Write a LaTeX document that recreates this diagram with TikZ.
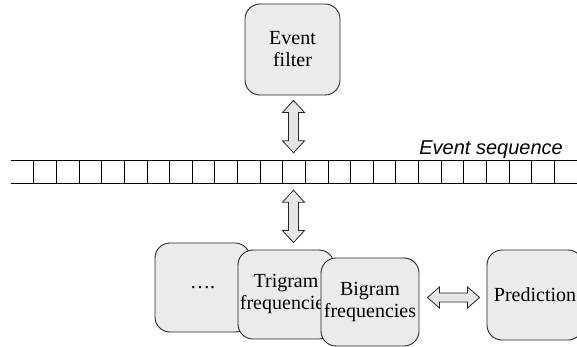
\documentclass[tikz,border=0pt]{standalone}
\usepackage{fontspec}
\setmainfont{Liberation Serif}
\newfontfamily\arialfont{Liberation Sans}
\usetikzlibrary{calc}
\definecolor{boxfill}{RGB}{235,235,235}
\definecolor{arrowfill}{RGB}{230,230,230}
\tikzset{
  procbox/.style={draw=black!85, fill=boxfill, line width=0.9pt, rounded corners=15pt,
    inner sep=0pt, align=center, font=\fontsize{20}{22}\selectfont},
  blockarrow/.style={draw=black!85, fill=arrowfill, line width=0.8pt, line join=miter},
  cellline/.style={draw=black, line width=0.9pt},
  seqlabel/.style={font=\arialfont\itshape\fontsize{20}{22}\selectfont, inner sep=0pt}
}
\newcommand\vdblarrow[2]{\draw[blockarrow] (#1) -- ++(11,12) -- ++(-6,0) -- ($(#2)+(5,-12)$) -- ++(6,0) -- (#2) -- ++(-11,-12) -- ++(6,0) -- ($(#1)+(-5,12)$) -- ++(-6,0) -- cycle;}
\newcommand\hdblarrow[2]{\draw[blockarrow] (#1) -- ++(12,-10.5) -- ++(0,6) -- ($(#2)+(-12,-4.5)$) -- ++(0,-6) -- (#2) -- ++(-12,10.5) -- ++(0,-6) -- ($(#1)+(12,4.5)$) -- ++(0,6) -- cycle;}
\begin{document}
\begin{tikzpicture}[x=1pt,y=-1pt]
\path[use as bounding box] (0,0) rectangle (577,347);
\clip (0,0) rectangle (577,347);
% boxes
\node[procbox, minimum width=95pt, minimum height=91pt] (filter) at (292.5,49.5) {Event\\filter};
\node[procbox, minimum width=95pt, minimum height=89pt] (dots) at (202.5,287.5) {….};
\node[procbox, minimum width=96pt, minimum height=89pt] (tri) at (286,294.5) {Trigram\\frequencies};
\node[procbox, minimum width=98pt, minimum height=88pt] (bi) at (370,302) {Bigram\\frequencies};
\node[procbox, minimum width=96pt, minimum height=90pt] (pred) at (535,295) {Prediction};
% event sequence strip
\node[inner sep=0pt, minimum width=589pt, minimum height=22pt] (seq) at (305.5,172) {};
\draw[cellline] (seq.north west) -- (seq.north east);
\draw[cellline] (seq.south west) -- (seq.south east);
\foreach \i in {0,...,23}{
  \draw[cellline] ($(seq.north west)+(23+22.63*\i,0)$) -- ++(0,22);
}
\node[seqlabel, anchor=base east] (seqlab) at (563,155) {Event sequence};
% arrows
\coordinate (u1) at ($(filter.south)+(1,5)$);
\coordinate (u2) at ($(u1|-seq.north)+(0,-8)$);
\coordinate (l1) at ($(u1|-seq.south)+(0,7)$);
\coordinate (l2) at ($(u1|-tri.north)+(0,-7)$);
\coordinate (h1) at ($(bi.east)+(8,-4.5)$);
\coordinate (h2) at ($(h1-|pred.west)+(-7,0)$);
\vdblarrow{u1}{u2}
\vdblarrow{l1}{l2}
\hdblarrow{h1}{h2}
\end{tikzpicture}
\end{document}
